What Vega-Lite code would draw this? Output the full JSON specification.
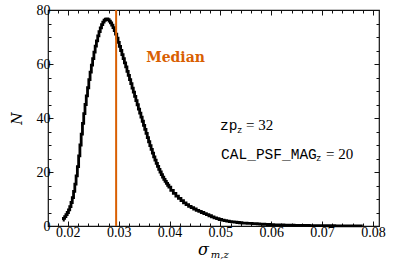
{
  "$schema": "https://vega.github.io/schema/vega-lite/v6.json",
  "width": 331,
  "height": 216,
  "autosize": {"type": "none"},
  "padding": {"left": 48, "top": 10, "right": 20, "bottom": 40},
  "background": "white",
  "config": {
    "view": {"stroke": "#111", "strokeWidth": 1.2},
    "axis": {"domain": false, "grid": false, "tickColor": "#111", "tickWidth": 1, "labelColor": "#000", "labelFont": "Liberation Serif", "labelFontSize": 14, "labelOverlap": false, "labelFlush": false}
  },
  "datasets": {
    "hist": [
      {"sigma": 0.01900, "N": 2.2}, {"sigma": 0.01925, "N": 2.8}, {"sigma": 0.01950, "N": 3.5}, {"sigma": 0.01975, "N": 4.2},
      {"sigma": 0.02000, "N": 5.0}, {"sigma": 0.02025, "N": 6.0}, {"sigma": 0.02050, "N": 7.2}, {"sigma": 0.02075, "N": 8.7},
      {"sigma": 0.02100, "N": 10.5}, {"sigma": 0.02125, "N": 12.8}, {"sigma": 0.02150, "N": 15.5}, {"sigma": 0.02175, "N": 18.6},
      {"sigma": 0.02200, "N": 22.0}, {"sigma": 0.02225, "N": 26.0}, {"sigma": 0.02250, "N": 30.0}, {"sigma": 0.02275, "N": 34.0},
      {"sigma": 0.02300, "N": 38.0}, {"sigma": 0.02325, "N": 41.6}, {"sigma": 0.02350, "N": 45.0}, {"sigma": 0.02375, "N": 48.2},
      {"sigma": 0.02400, "N": 51.2}, {"sigma": 0.02425, "N": 54.2}, {"sigma": 0.02450, "N": 57.0}, {"sigma": 0.02475, "N": 59.6},
      {"sigma": 0.02500, "N": 62.0}, {"sigma": 0.02525, "N": 64.4}, {"sigma": 0.02550, "N": 66.6}, {"sigma": 0.02575, "N": 68.6},
      {"sigma": 0.02600, "N": 70.4}, {"sigma": 0.02625, "N": 72.0}, {"sigma": 0.02650, "N": 73.4}, {"sigma": 0.02675, "N": 74.6},
      {"sigma": 0.02700, "N": 75.5}, {"sigma": 0.02725, "N": 76.2}, {"sigma": 0.02750, "N": 76.6}, {"sigma": 0.02775, "N": 76.7},
      {"sigma": 0.02800, "N": 76.4}, {"sigma": 0.02825, "N": 75.9}, {"sigma": 0.02850, "N": 75.2}, {"sigma": 0.02875, "N": 74.4},
      {"sigma": 0.02900, "N": 73.5}, {"sigma": 0.02925, "N": 72.4}, {"sigma": 0.02950, "N": 71.1}, {"sigma": 0.02975, "N": 69.6},
      {"sigma": 0.03000, "N": 68.0}, {"sigma": 0.03025, "N": 66.5}, {"sigma": 0.03050, "N": 65.0}, {"sigma": 0.03075, "N": 63.5},
      {"sigma": 0.03100, "N": 62.0}, {"sigma": 0.03125, "N": 60.4}, {"sigma": 0.03150, "N": 58.9}, {"sigma": 0.03175, "N": 57.3},
      {"sigma": 0.03200, "N": 55.8}, {"sigma": 0.03225, "N": 54.2}, {"sigma": 0.03250, "N": 52.7}, {"sigma": 0.03275, "N": 51.1},
      {"sigma": 0.03300, "N": 49.6}, {"sigma": 0.03325, "N": 48.0}, {"sigma": 0.03350, "N": 46.4}, {"sigma": 0.03375, "N": 44.9},
      {"sigma": 0.03400, "N": 43.3}, {"sigma": 0.03425, "N": 41.8}, {"sigma": 0.03450, "N": 40.3}, {"sigma": 0.03475, "N": 38.8},
      {"sigma": 0.03500, "N": 37.3}, {"sigma": 0.03525, "N": 35.8}, {"sigma": 0.03550, "N": 34.3}, {"sigma": 0.03575, "N": 32.7},
      {"sigma": 0.03600, "N": 31.2}, {"sigma": 0.03625, "N": 29.8}, {"sigma": 0.03650, "N": 28.4}, {"sigma": 0.03675, "N": 27.0},
      {"sigma": 0.03700, "N": 25.6}, {"sigma": 0.03725, "N": 24.4}, {"sigma": 0.03750, "N": 23.2}, {"sigma": 0.03775, "N": 22.1},
      {"sigma": 0.03800, "N": 21.0}, {"sigma": 0.03825, "N": 20.0}, {"sigma": 0.03850, "N": 19.0}, {"sigma": 0.03875, "N": 18.1},
      {"sigma": 0.03900, "N": 17.3}, {"sigma": 0.03925, "N": 16.5}, {"sigma": 0.03950, "N": 15.8}, {"sigma": 0.03975, "N": 15.1},
      {"sigma": 0.04000, "N": 14.4}, {"sigma": 0.04050, "N": 13.2}, {"sigma": 0.04100, "N": 12.1}, {"sigma": 0.04150, "N": 11.1},
      {"sigma": 0.04200, "N": 10.2}, {"sigma": 0.04250, "N": 9.4}, {"sigma": 0.04300, "N": 8.6}, {"sigma": 0.04350, "N": 7.9},
      {"sigma": 0.04400, "N": 7.3}, {"sigma": 0.04450, "N": 6.8}, {"sigma": 0.04500, "N": 6.3}, {"sigma": 0.04550, "N": 5.8},
      {"sigma": 0.04600, "N": 5.4}, {"sigma": 0.04650, "N": 5.0}, {"sigma": 0.04700, "N": 4.6}, {"sigma": 0.04750, "N": 4.2},
      {"sigma": 0.04800, "N": 3.8}, {"sigma": 0.04850, "N": 3.4}, {"sigma": 0.04900, "N": 3.0}, {"sigma": 0.04950, "N": 2.7},
      {"sigma": 0.05000, "N": 2.4}, {"sigma": 0.05050, "N": 2.2}, {"sigma": 0.05100, "N": 2.0}, {"sigma": 0.05150, "N": 1.8},
      {"sigma": 0.05200, "N": 1.65}, {"sigma": 0.05250, "N": 1.5}, {"sigma": 0.05300, "N": 1.4}, {"sigma": 0.05350, "N": 1.3},
      {"sigma": 0.05400, "N": 1.2}, {"sigma": 0.05450, "N": 1.1}, {"sigma": 0.05500, "N": 1.05}, {"sigma": 0.05550, "N": 1.0},
      {"sigma": 0.05600, "N": 0.95}, {"sigma": 0.05650, "N": 0.9}, {"sigma": 0.05700, "N": 0.85}, {"sigma": 0.05750, "N": 0.8},
      {"sigma": 0.05800, "N": 0.7}, {"sigma": 0.05850, "N": 0.65}, {"sigma": 0.05900, "N": 0.6}, {"sigma": 0.05950, "N": 0.55},
      {"sigma": 0.06000, "N": 0.5}, {"sigma": 0.06100, "N": 0.45}, {"sigma": 0.06200, "N": 0.4}, {"sigma": 0.06300, "N": 0.35},
      {"sigma": 0.06400, "N": 0.3}, {"sigma": 0.06500, "N": 0.25}, {"sigma": 0.06600, "N": 0.22}, {"sigma": 0.06700, "N": 0.2},
      {"sigma": 0.06800, "N": 0.17}, {"sigma": 0.06900, "N": 0.15}, {"sigma": 0.07000, "N": 0.12}, {"sigma": 0.07100, "N": 0.1},
      {"sigma": 0.07200, "N": 0.09}, {"sigma": 0.07300, "N": 0.08}, {"sigma": 0.07400, "N": 0.07}, {"sigma": 0.07500, "N": 0.06},
      {"sigma": 0.07600, "N": 0.05}, {"sigma": 0.07700, "N": 0.05}, {"sigma": 0.07800, "N": 0.04}
    ]
  },
  "layer": [
    {
      "data": {"name": "hist"},
      "mark": {"type": "line", "interpolate": "step", "color": "#000", "strokeWidth": 2.8},
      "encoding": {
        "x": {"field": "sigma", "type": "quantitative", "scale": {"domain": [0.0161, 0.0812], "nice": false, "zero": false},
          "axis": {"orient": "bottom", "title": null, "labelFont": "Liberation Serif", "labelFontSize": 14,
            "values": [0.018, 0.02, 0.022, 0.024, 0.026, 0.028, 0.03, 0.032, 0.034, 0.036, 0.038, 0.04, 0.042, 0.044, 0.046, 0.048, 0.05, 0.052, 0.054, 0.056, 0.058, 0.06, 0.062, 0.064, 0.066, 0.068, 0.07, 0.072, 0.074, 0.076, 0.078, 0.08],
            "labelExpr": "abs(datum.value*100 - round(datum.value*100)) < 0.01 ? format(datum.value, '.2f') : ''",
            "tickSize": {"condition": {"test": "abs(datum.value*100 - round(datum.value*100)) < 0.01", "value": -5}, "value": -3},
            "labelPadding": 4}},
        "y": {"field": "N", "type": "quantitative", "scale": {"domain": [0, 80], "nice": false},
          "axis": {"orient": "left", "title": "N", "titleFont": "DejaVu Serif", "titleFontStyle": "italic", "titleFontWeight": "normal", "titleFontSize": 14, "titleColor": "#000", "titlePadding": 12,
            "labelFont": "Liberation Serif", "labelFontSize": 14,
            "values": [0, 5, 10, 15, 20, 25, 30, 35, 40, 45, 50, 55, 60, 65, 70, 75, 80],
            "labelExpr": "datum.value % 20 === 0 ? datum.label : ''",
            "tickSize": {"condition": {"test": "datum.value % 20 === 0", "value": -5}, "value": -3},
            "labelPadding": 3}}
      }
    },
    {
      "data": {"values": [{}]},
      "mark": {"type": "rule", "color": "#d95f02", "strokeWidth": 2},
      "encoding": {
        "x": {"datum": 0.0295, "type": "quantitative", "scale": {"domain": [0.0161, 0.0812], "nice": false, "zero": false},
          "axis": {"orient": "top", "title": null, "labels": false,
            "values": [0.018, 0.02, 0.022, 0.024, 0.026, 0.028, 0.03, 0.032, 0.034, 0.036, 0.038, 0.04, 0.042, 0.044, 0.046, 0.048, 0.05, 0.052, 0.054, 0.056, 0.058, 0.06, 0.062, 0.064, 0.066, 0.068, 0.07, 0.072, 0.074, 0.076, 0.078, 0.08],
            "tickSize": {"condition": {"test": "abs(datum.value*100 - round(datum.value*100)) < 0.01", "value": -5}, "value": -3}}},
        "y": {"datum": 0, "type": "quantitative", "scale": {"domain": [0, 80], "nice": false},
          "axis": {"orient": "right", "title": null, "labels": false,
            "values": [0, 5, 10, 15, 20, 25, 30, 35, 40, 45, 50, 55, 60, 65, 70, 75, 80],
            "tickSize": {"condition": {"test": "datum.value % 20 === 0", "value": -5}, "value": -3}}},
        "y2": {"datum": 80}
      }
    },
    {
      "data": {"values": [{}]},
      "mark": {"type": "text", "text": "Median", "align": "left", "baseline": "alphabetic", "font": "DejaVu Serif", "fontWeight": "bold", "fontSize": 14, "color": "#d95f02"},
      "encoding": {
        "x": {"datum": 0.0354, "type": "quantitative", "scale": {"domain": [0.0161, 0.0812], "nice": false, "zero": false}, "axis": null},
        "y": {"datum": 60.8, "type": "quantitative", "scale": {"domain": [0, 80], "nice": false}, "axis": null}
      }
    },
    {
      "data": {"values": [{}]},
      "mark": {"type": "text", "text": "zp", "align": "left", "baseline": "alphabetic", "font": "Liberation Mono", "fontSize": 14.5, "color": "#000"},
      "encoding": {
        "x": {"datum": 0.04994, "type": "quantitative", "scale": {"domain": [0.0161, 0.0812], "nice": false, "zero": false}, "axis": null},
        "y": {"datum": 35.6, "type": "quantitative", "scale": {"domain": [0, 80], "nice": false}, "axis": null}
      }
    },
    {
      "data": {"values": [{}]},
      "mark": {"type": "text", "text": "z", "align": "left", "baseline": "alphabetic", "font": "Liberation Mono", "fontSize": 9, "color": "#000"},
      "encoding": {
        "x": {"datum": 0.05328, "type": "quantitative", "scale": {"domain": [0.0161, 0.0812], "nice": false, "zero": false}, "axis": null},
        "y": {"datum": 34.6, "type": "quantitative", "scale": {"domain": [0, 80], "nice": false}, "axis": null}
      }
    },
    {
      "data": {"values": [{}]},
      "mark": {"type": "text", "text": "= 32", "align": "left", "baseline": "alphabetic", "font": "Liberation Serif", "fontSize": 15, "color": "#000"},
      "encoding": {
        "x": {"datum": 0.05505, "type": "quantitative", "scale": {"domain": [0.0161, 0.0812], "nice": false, "zero": false}, "axis": null},
        "y": {"datum": 35.6, "type": "quantitative", "scale": {"domain": [0, 80], "nice": false}, "axis": null}
      }
    },
    {
      "data": {"values": [{}]},
      "mark": {"type": "text", "text": "CAL_PSF_MAG", "align": "left", "baseline": "alphabetic", "font": "Liberation Mono", "fontSize": 14.5, "color": "#000"},
      "encoding": {
        "x": {"datum": 0.05014, "type": "quantitative", "scale": {"domain": [0.0161, 0.0812], "nice": false, "zero": false}, "axis": null},
        "y": {"datum": 25.0, "type": "quantitative", "scale": {"domain": [0, 80], "nice": false}, "axis": null}
      }
    },
    {
      "data": {"values": [{}]},
      "mark": {"type": "text", "text": "z", "align": "left", "baseline": "alphabetic", "font": "Liberation Mono", "fontSize": 9, "color": "#000"},
      "encoding": {
        "x": {"datum": 0.06882, "type": "quantitative", "scale": {"domain": [0.0161, 0.0812], "nice": false, "zero": false}, "axis": null},
        "y": {"datum": 24.1, "type": "quantitative", "scale": {"domain": [0, 80], "nice": false}, "axis": null}
      }
    },
    {
      "data": {"values": [{}]},
      "mark": {"type": "text", "text": "= 20", "align": "left", "baseline": "alphabetic", "font": "Liberation Serif", "fontSize": 15, "color": "#000"},
      "encoding": {
        "x": {"datum": 0.07079, "type": "quantitative", "scale": {"domain": [0.0161, 0.0812], "nice": false, "zero": false}, "axis": null},
        "y": {"datum": 25.0, "type": "quantitative", "scale": {"domain": [0, 80], "nice": false}, "axis": null}
      }
    },
    {
      "data": {"values": [{}]},
      "mark": {"type": "text", "text": "σ", "align": "left", "baseline": "alphabetic", "font": "DejaVu Serif", "fontStyle": "italic", "fontSize": 16, "color": "#000"},
      "encoding": {
        "x": {"datum": 0.04561, "type": "quantitative", "scale": {"domain": [0.0161, 0.0812], "nice": false, "zero": false}, "axis": null},
        "y": {"datum": -10.7, "type": "quantitative", "scale": {"domain": [0, 80], "nice": false}, "axis": null}
      }
    },
    {
      "data": {"values": [{}]},
      "mark": {"type": "text", "text": "m,z", "align": "left", "baseline": "alphabetic", "font": "DejaVu Serif", "fontStyle": "italic", "fontSize": 10, "color": "#000"},
      "encoding": {
        "x": {"datum": 0.04812, "type": "quantitative", "scale": {"domain": [0.0161, 0.0812], "nice": false, "zero": false}, "axis": null},
        "y": {"datum": -11.85, "type": "quantitative", "scale": {"domain": [0, 80], "nice": false}, "axis": null}
      }
    }
  ],
  "resolve": {"axis": {"x": "independent", "y": "independent"}}
}
